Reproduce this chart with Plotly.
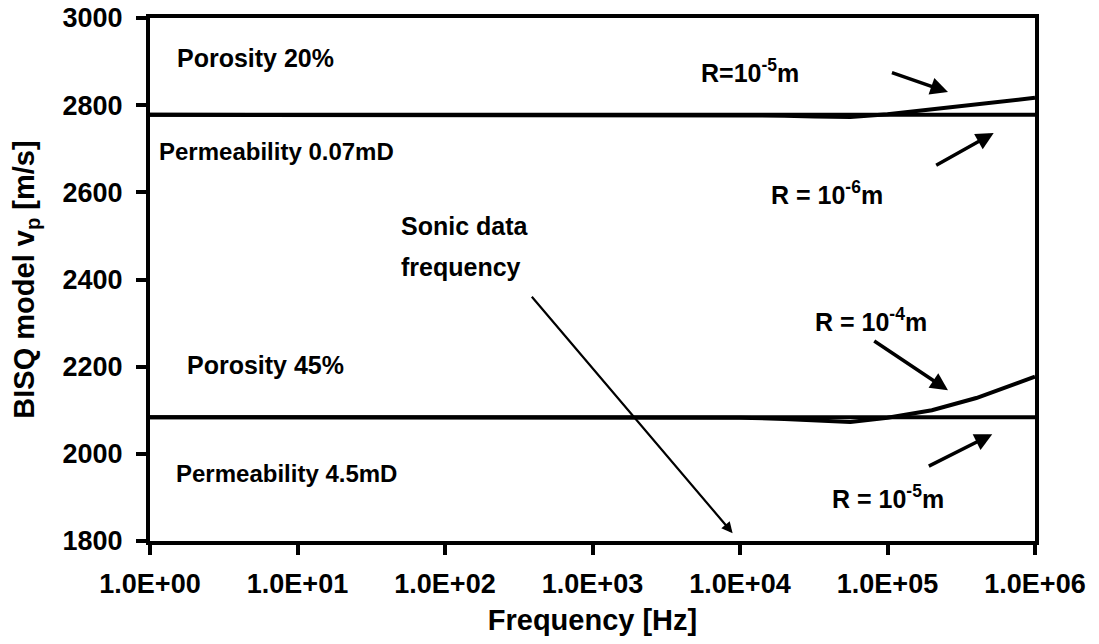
import plotly.graph_objects as go

# Frequencies [Hz]
freq = [1, 10, 100, 1000, 1e4, 2e4, 3.2e4, 5.6e4, 1e5, 2e5, 4e5, 1e6]

# Porosity 20 %, permeability 0.07 mD
vp_20_r1e6 = [2778, 2778, 2778, 2778, 2778, 2778, 2778, 2778, 2778, 2778, 2778, 2778]
vp_20_r1e5 = [2778, 2778, 2778, 2778, 2778, 2776, 2774, 2773, 2779, 2790, 2801, 2817]

# Porosity 45 %, permeability 4.5 mD
vp_45_r1e5 = [2084, 2084, 2084, 2084, 2084, 2084, 2084, 2084, 2084, 2084, 2084, 2084]
vp_45_r1e4 = [2084, 2084, 2084, 2084, 2083, 2080, 2076, 2073, 2083, 2100, 2128, 2177]

x_tickvals = [1, 10, 100, 1000, 1e4, 1e5, 1e6]
x_ticktext = ["1.0E+00", "1.0E+01", "1.0E+02", "1.0E+03", "1.0E+04", "1.0E+05", "1.0E+06"]
y_tickvals = [1800, 2000, 2200, 2400, 2600, 2800, 3000]

FONT = "Liberation Sans, Arial, sans-serif"

fig = go.Figure()
for ys in [vp_20_r1e6, vp_20_r1e5, vp_45_r1e5, vp_45_r1e4]:
    fig.add_trace(go.Scatter(x=freq, y=ys, mode="lines",
                             line=dict(color="black", width=4),
                             showlegend=False, hoverinfo="skip"))

# text labels (x in log10 units since axis is log)
labels = [
    ("Porosity 20%", 0.17, 2908, "left", 25),
    ("Permeability 0.07mD", 0.05, 2693, "left", 24),
    ("Porosity 45%", 0.24, 2204, "left", 25),
    ("Permeability 4.5mD", 0.16, 1956, "left", 24),
    ("R=10<sup>-5</sup>m", 4.07, 2878, "center", 25),
    ("R = 10<sup>-6</sup>m", 4.59, 2598, "center", 25),
    ("R = 10<sup>-4</sup>m", 4.89, 2307, "center", 25),
    ("R = 10<sup>-5</sup>m", 5.00, 1901, "center", 25),
    ("Sonic data", 1.69, 2522, "left", 25),
    ("frequency", 1.69, 2428, "left", 25),
]
for txt, lx, ly, anc, sz in labels:
    fig.add_annotation(x=lx, y=ly, xref="x", yref="y", text=txt, showarrow=False,
                       xanchor=anc, align="left",
                       font=dict(family=FONT, size=sz, color="black", weight="bold"))

# arrows: (tail x, tail y, head x, head y)
arrows = [
    (5.02, 2876, 5.41, 2830),
    (5.32, 2660, 5.72, 2736),
    (4.90, 2261, 5.41, 2146),
    (5.27, 1970, 5.71, 2045),
    (2.58, 2364, 3.95, 1818),
]
for tx, ty, hx, hy in arrows:
    fig.add_annotation(x=hx, y=hy, ax=tx, ay=ty, xref="x", yref="y",
                       axref="x", ayref="y", text="", showarrow=True,
                       arrowhead=2, arrowsize=1.0, arrowwidth=3.5 if tx > 4 else 2.2,
                       arrowcolor="black")

tick_font = dict(family=FONT, size=27, color="black", weight="bold")
title_font = dict(family=FONT, size=29, color="black", weight="bold")
fig.update_layout(
    width=1099, height=644,
    margin=dict(l=150, r=64, t=18, b=103),
    paper_bgcolor="white", plot_bgcolor="white",
    font=dict(family=FONT, color="black"),
    xaxis=dict(type="log", range=[0, 6], tickvals=x_tickvals, ticktext=x_ticktext,
               showgrid=False, zeroline=False, showline=True, linecolor="black",
               linewidth=4, mirror=True, ticks="outside", ticklen=10, tickwidth=4,
               tickcolor="black", tickfont=tick_font, ticklabelstandoff=6,
               automargin=False,
               title=dict(text="Frequency [Hz]", font=title_font, standoff=12)),
    yaxis=dict(range=[1800, 3000], tickvals=y_tickvals,
               showgrid=False, zeroline=False, showline=True, linecolor="black",
               linewidth=4, mirror=True, ticks="outside", ticklen=10, tickwidth=4,
               tickcolor="black", tickfont=tick_font, ticklabelstandoff=8,
               automargin=False,
               title=dict(text="BISQ model v<sub>p</sub> [m/s]", font=title_font, standoff=20)),
)

fig.write_html("out.html")
